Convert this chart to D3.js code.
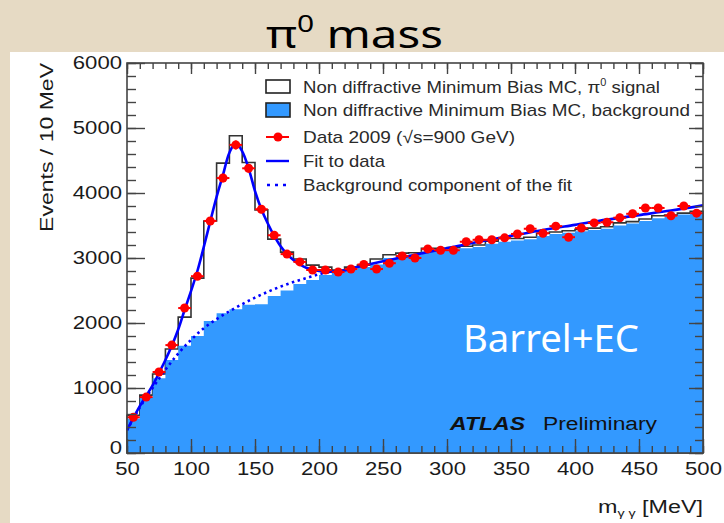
<!DOCTYPE html>
<html>
<head>
<meta charset="utf-8">
<script src="https://cdn.jsdelivr.net/npm/d3@7"></script>
<style>
  body { margin: 0; background: #e6dac4; }
  svg { display: block; }
  text { font-family: "Liberation Sans", Arial, sans-serif; }
  .comic { font-family: "Comic Sans MS", "Noto Sans", "DejaVu Sans", sans-serif; }
</style>
</head>
<body>
<div id="chart"></div>
<script>
// bin low edges (10 MeV bins)
let binLow = [50, 60, 70, 80, 90, 100, 110, 120, 130, 140, 150, 160, 170, 180, 190,
    200, 210, 220, 230, 240, 250, 260, 270, 280, 290, 300, 310, 320, 330, 340,
    350, 360, 370, 380, 390, 400, 410, 420, 430, 440, 450, 460, 470, 480, 490];

// MC signal + background (black outline)
let mcTotal = [580, 890, 1215, 1600, 2090, 2690, 3570, 4460, 4880, 4470, 3740, 3290, 3090, 2985, 2890,
    2860, 2815, 2860, 2890, 2985, 3050, 3075, 3080, 3150, 3150, 3160, 3180, 3200, 3260, 3300,
    3300, 3320, 3380, 3400, 3420, 3440, 3460, 3480, 3540, 3560, 3600, 3650, 3660, 3690, 3720];

// MC background (blue fill)
let mcBkg = [530, 860, 1150, 1430, 1650, 1800, 2030, 2150, 2210, 2280, 2290, 2415, 2500, 2600, 2660,
    2740, 2780, 2820, 2860, 2900, 3000, 3030, 3050, 3100, 3110, 3130, 3150, 3170, 3220, 3250,
    3270, 3290, 3340, 3370, 3390, 3410, 3430, 3450, 3500, 3530, 3570, 3610, 3640, 3670, 3700];

// data 2009
let dataVal = [550, 860, 1246, 1660, 2230, 2720, 3570, 4230, 4740, 4380, 3750, 3350, 3060, 2940, 2815,
    2815, 2785, 2830, 2900, 2830, 2920, 3030, 3000, 3140, 3120, 3120, 3250, 3280, 3280, 3310,
    3370, 3450, 3380, 3490, 3320, 3460, 3540, 3550, 3620, 3680, 3770, 3770, 3650, 3800, 3690];

// fit to data
let fitMass = [50, 55, 60, 65, 70, 75, 80, 85, 90, 95, 100, 105, 110, 115, 120, 125, 130, 135, 140, 145,
    150, 155, 160, 165, 170, 175, 180, 185, 190, 200, 210, 220, 230, 250, 275, 300, 325, 350, 375, 400, 425,
    450, 475, 500];
let fitVal = [350, 540, 720, 880, 1040, 1230, 1430, 1650, 1900, 2200, 2490, 2800, 3170, 3560, 3940, 4280, 4620, 4770, 4640, 4380,
    4030, 3750, 3530, 3340, 3180, 3060, 2970, 2900, 2850, 2800, 2790, 2810, 2860, 2950, 3050, 3150, 3250, 3340, 3430, 3510, 3590,
    3660, 3730, 3810];

// background component of the fit
let bkgFitMass = [50, 60, 70, 80, 90, 100, 110, 120, 130, 140, 150, 160, 170, 180, 190, 200, 210];
let bkgFitVal = [350, 700, 1000, 1280, 1530, 1740, 1920, 2060, 2180, 2290, 2390, 2480, 2560, 2630, 2690, 2750, 2790];

let xMajor = [50, 100, 150, 200, 250, 300, 350, 400, 450, 500];
let yMajor = [0, 1000, 2000, 3000, 4000, 5000, 6000];

let legendLabels = ["Non diffractive Minimum Bias MC, ", "Non diffractive Minimum Bias MC, background",
    "Data 2009 (\u221As=900 GeV)", "Fit to data", "Background component of the fit"];

let W = 724, H = 523;
let binW = 10;

let svg = d3.select("#chart").append("svg")
    .attr("width", W)
    .attr("height", H);

// white panel on the beige page
svg.append("rect").attr("x", 10).attr("y", 52).attr("width", W - 10).attr("height", H - 52).attr("fill", "#fff");

let x = d3.scaleLinear().domain([50, 500]).range([127, 703]);
let y = d3.scaleLinear().domain([0, 6000]).range([453, 63]);

// histograms
let stepPts = function (vals) {
    let pts = binLow.map(function (d, i) { return [d, vals[i]]; });
    pts.push([binLow[binLow.length - 1] + binW, vals[vals.length - 1]]);
    return pts;
};
let stepArea = d3.area()
    .x(function (d) { return x(d[0]); })
    .y0(y(0))
    .y1(function (d) { return y(d[1]); })
    .curve(d3.curveStepAfter);

svg.append("path")
    .attr("d", stepArea(stepPts(mcTotal)))
    .attr("fill", "#fff")
    .attr("stroke", "#333")
    .attr("stroke-width", 1.6);

svg.append("path")
    .attr("d", stepArea(stepPts(mcBkg)))
    .attr("fill", "#3399ff");

// fit lines
let line = d3.line()
    .x(function (d) { return x(d[0]); })
    .y(function (d) { return y(d[1]); })
    .curve(d3.curveCatmullRom);

svg.append("path")
    .attr("d", line(bkgFitMass.map(function (d, i) { return [d, bkgFitVal[i]]; })))
    .attr("fill", "none")
    .attr("stroke", "#0000ff")
    .attr("stroke-width", 2.6)
    .attr("stroke-dasharray", "2.5,3.5");

svg.append("path")
    .attr("d", line(fitMass.map(function (d, i) { return [d, fitVal[i]]; })))
    .attr("fill", "none")
    .attr("stroke", "#0000ff")
    .attr("stroke-width", 2.6);

// data points
let pts = svg.append("g").selectAll("g").data(dataVal).enter().append("g");
pts.append("line")
    .attr("x1", function (d, i) { return x(binLow[i]); })
    .attr("x2", function (d, i) { return x(binLow[i] + binW); })
    .attr("y1", function (d) { return y(d); })
    .attr("y2", function (d) { return y(d); })
    .attr("stroke", "#ff0000").attr("stroke-width", 2);
pts.append("line")
    .attr("x1", function (d, i) { return x(binLow[i] + binW / 2); })
    .attr("x2", function (d, i) { return x(binLow[i] + binW / 2); })
    .attr("y1", function (d) { return y(d + Math.sqrt(d)); })
    .attr("y2", function (d) { return y(d - Math.sqrt(d)); })
    .attr("stroke", "#ff0000").attr("stroke-width", 2);
pts.append("circle")
    .attr("cx", function (d, i) { return x(binLow[i] + binW / 2); })
    .attr("cy", function (d) { return y(d); })
    .attr("r", 4.5)
    .attr("fill", "#ff0000");

// axes (ticks point inward, frame on all sides)
let xMinor = binLow.concat([500]);
let yMinor = d3.range(0, 6001, 200);
let noLabel = function () { return ""; };

function stretch(sel, per) {
    sel.selectAll("text")
        .attr("textLength", function (d) { return String(d).length * per; })
        .attr("lengthAdjust", "spacingAndGlyphs");
}

let gx = svg.append("g").attr("transform", "translate(0," + y(0) + ")");
gx.call(d3.axisBottom(x).tickValues(xMinor).tickSize(-7).tickFormat(noLabel));
gx.append("g").call(d3.axisBottom(x).tickValues(xMajor).tickSize(-14).tickPadding(9).tickFormat(d3.format("d")));

let gxt = svg.append("g").attr("transform", "translate(0," + y(6000) + ")");
gxt.call(d3.axisTop(x).tickValues(xMinor).tickSize(-6).tickFormat(noLabel));
gxt.append("g").call(d3.axisTop(x).tickValues(xMajor).tickSize(-11).tickFormat(noLabel));

let gy = svg.append("g").attr("transform", "translate(" + x(50) + ",0)");
gy.call(d3.axisLeft(y).tickValues(yMinor).tickSize(-9).tickFormat(noLabel));
gy.append("g").call(d3.axisLeft(y).tickValues(yMajor).tickSize(-18).tickPadding(5).tickFormat(d3.format("d")));

let gyr = svg.append("g").attr("transform", "translate(" + x(500) + ",0)");
gyr.call(d3.axisRight(y).tickValues(yMinor).tickSize(-8).tickFormat(noLabel));
gyr.append("g").call(d3.axisRight(y).tickValues(yMajor).tickSize(-14).tickFormat(noLabel));

svg.selectAll(".domain").remove();
svg.selectAll(".tick line").attr("stroke", "#444").attr("stroke-width", 1.4);
svg.selectAll(".tick text").attr("font-size", 18).attr("fill", "#1a1a1a")
    .attr("font-family", "Liberation Sans, Arial, sans-serif");
stretch(gx, 12.3);
stretch(gy, 12.3);
// the y "0" sits just above the x "50", as in the reference
gy.selectAll(".tick text").filter(function (d) { return d === 0; }).attr("dy", "0.05em");

svg.append("rect")
    .attr("x", x(50)).attr("y", y(6000))
    .attr("width", x(500) - x(50)).attr("height", y(0) - y(6000))
    .attr("fill", "none").attr("stroke", "#444").attr("stroke-width", 1.6);

// axis titles
svg.append("text")
    .attr("transform", "translate(53," + y(6000) + ") rotate(-90)")
    .attr("text-anchor", "end")
    .attr("font-size", 18).attr("fill", "#1a1a1a")
    .attr("textLength", 169).attr("lengthAdjust", "spacingAndGlyphs")
    .text("Events / 10 MeV");

let xt = svg.append("text")
    .attr("x", 598).attr("y", 513)
    .attr("font-size", 18).attr("fill", "#1a1a1a")
    .attr("textLength", 105).attr("lengthAdjust", "spacingAndGlyphs");
xt.append("tspan").text("m");
xt.append("tspan").attr("font-size", 11).attr("dy", 4).text("\u03B3 \u03B3");
xt.append("tspan").attr("dy", -4).text(" [MeV]");

// legend
let legY = [87, 110, 137, 161, 185];
let legEnd = [660, 690, 515, 385, 572];
let leg = svg.append("g");
leg.append("rect").attr("x", 266).attr("y", 80).attr("width", 24).attr("height", 13)
    .attr("fill", "#fff").attr("stroke", "#222").attr("stroke-width", 1.6);
leg.append("rect").attr("x", 266).attr("y", 103).attr("width", 24).attr("height", 14)
    .attr("fill", "#3399ff").attr("stroke", "#222").attr("stroke-width", 1.6);
leg.append("line").attr("x1", 266).attr("x2", 289).attr("y1", legY[2]).attr("y2", legY[2])
    .attr("stroke", "#ff0000").attr("stroke-width", 2);
leg.append("circle").attr("cx", 278).attr("cy", legY[2]).attr("r", 4.5).attr("fill", "#ff0000");
leg.append("line").attr("x1", 266).attr("x2", 289).attr("y1", legY[3]).attr("y2", legY[3])
    .attr("stroke", "#0000ff").attr("stroke-width", 2.4);
leg.append("line").attr("x1", 267).attr("x2", 290).attr("y1", legY[4]).attr("y2", legY[4])
    .attr("stroke", "#0000ff").attr("stroke-width", 2.4).attr("stroke-dasharray", "3,5");

let legText = leg.selectAll("text.leg").data(legendLabels).enter().append("text")
    .attr("class", "leg")
    .attr("x", 303)
    .attr("y", function (d, i) { return legY[i] + 6; })
    .attr("font-size", 17).attr("fill", "#2a2a2a")
    .attr("textLength", function (d, i) { return legEnd[i] - 303; })
    .attr("lengthAdjust", "spacingAndGlyphs")
    .text(function (d) { return d; });
let first = d3.select(legText.nodes()[0]);
first.append("tspan").text("\u03C0");
first.append("tspan").attr("font-size", 10).attr("dy", -7).text("0");
first.append("tspan").attr("dy", 7).text(" signal");

// ATLAS Preliminary
svg.append("text").attr("x", 450).attr("y", 430)
    .attr("font-size", 18).attr("font-weight", "bold").attr("font-style", "italic")
    .attr("textLength", 75).attr("lengthAdjust", "spacingAndGlyphs")
    .attr("fill", "#111").text("ATLAS");
svg.append("text").attr("x", 543).attr("y", 430)
    .attr("font-size", 18).attr("fill", "#111")
    .attr("textLength", 114).attr("lengthAdjust", "spacingAndGlyphs")
    .text("Preliminary");

// slide annotations
svg.append("text").attr("class", "comic")
    .attr("x", 463).attr("y", 352)
    .attr("font-size", 38).attr("fill", "#fff")
    .attr("textLength", 176).attr("lengthAdjust", "spacingAndGlyphs")
    .text("Barrel+EC");

let title = svg.append("text").attr("class", "comic")
    .attr("x", 266).attr("y", 48)
    .attr("font-size", 38).attr("fill", "#000")
    .attr("textLength", 177).attr("lengthAdjust", "spacingAndGlyphs");
title.append("tspan").text("\u03C0");
title.append("tspan").attr("font-size", 24).attr("dy", -16).text("0");
title.append("tspan").attr("dy", 16).text(" mass");
</script>
</body>
</html>
